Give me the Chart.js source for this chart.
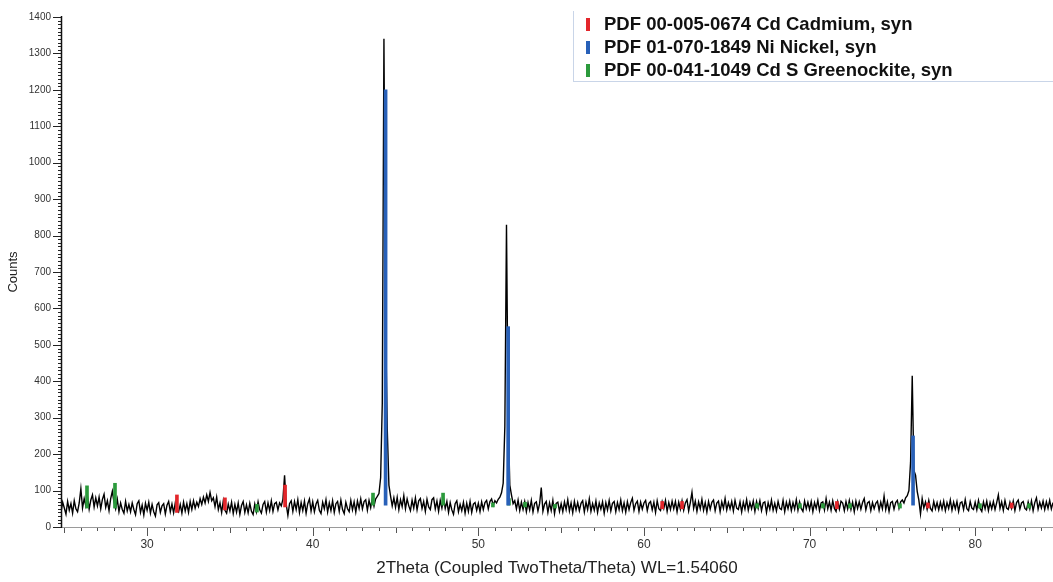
<!DOCTYPE html>
<html>
<head>
<meta charset="utf-8">
<script src="https://cdn.jsdelivr.net/npm/chart.js@4.4.1/dist/chart.umd.min.js"></script>
<style>
  html, body { margin: 0; padding: 0; background: #fff; }
  #wrap { position: relative; width: 1053px; height: 582px; }
  #legend {
    position: absolute; left: 573px; top: 11px; width: 480px; height: 70px;
    border-left: 1px solid #c9d5e8; border-bottom: 1px solid #c9d5e8;
    font-family: "Liberation Sans", Arial, sans-serif; font-weight: bold; font-size: 18.5px; color: #111;
  }
  #legend .row { position: absolute; left: 0; height: 22px; line-height: 22px; white-space: nowrap; }
  #legend .mark { position: absolute; left: 12px; top: 5px; width: 4px; height: 13px; }
  #legend .txt { position: absolute; left: 30px; top: 0; }
</style>
</head>
<body>
<div id="wrap">
  <canvas id="xrdChart"></canvas>
  <div id="legend"></div>
</div>
<script>
// Scan grid (2Theta, degrees) and measured counts, one row per degree
const twoThetaStart = 24.8;
const twoThetaStep = 0.1;
const counts = [
  40, 68,
  52, 35, 70, 46, 64, 38, 72, 50, 42, 66,          // 25
  105, 52, 78, 58, 84, 49, 74, 88, 55, 80,         // 26
  58, 82, 50, 76, 90, 54, 72, 45, 78, 98,          // 27
  68, 50, 76, 42, 66, 48, 38, 70, 44, 62,          // 28
  42, 66, 48, 34, 64, 72, 40, 60, 33, 65,          // 29
  46, 68, 38, 62, 42, 30, 61, 67, 40, 58,          // 30
  64, 36, 60, 70, 42, 63, 39, 66, 46, 41,          // 31
  62, 38, 68, 44, 64, 40, 70, 48, 72, 52,          // 32
  68, 56, 78, 62, 82, 66, 88, 70, 95, 72,          // 33
  80, 56, 82, 48, 66, 40, 72, 46, 38, 63,          // 34
  44, 68, 37, 62, 41, 66, 35, 59, 70, 40,          // 35
  61, 39, 65, 43, 34, 63, 42, 69, 47, 38,          // 36
  62, 70, 41, 66, 45, 72, 43, 64, 68, 47,          // 37
  66, 58, 76, 142, 62, 32, 64, 72, 43, 70,         // 38
  48, 75, 40, 67, 45, 71, 38, 64, 77, 44,          // 39
  69, 42, 63, 73, 46, 37, 68, 50, 75, 41,          // 40
  66, 45, 72, 40, 64, 70, 43, 74, 48, 37,          // 41
  68, 50, 42, 73, 47, 69, 41, 71, 51, 77,          // 42
  50, 70, 75, 46, 73, 53, 79, 57, 77, 84,          // 43
  92, 135, 340, 1340, 560, 270, 115, 85, 58, 80,   // 44
  54, 81, 48, 75, 56, 86, 50, 77, 58, 45,          // 45
  74, 52, 80, 47, 72, 78, 51, 70, 43, 76,          // 46
  55, 48, 75, 80, 50, 71, 43, 73, 52, 79,          // 47
  51, 70, 40, 67, 47, 35, 64, 72, 42, 62,          // 48
  45, 68, 38, 65, 43, 70, 40, 63, 67, 46,          // 49
  65, 42, 69, 48, 67, 73, 50, 70, 77, 60,          // 50
  72, 66, 76, 82, 94, 120, 275, 830, 300, 115,     // 51
  88, 64, 72, 50, 74, 45, 68, 48, 70, 42,          // 52
  67, 47, 73, 41, 65, 69, 44, 64, 108, 43,         // 53
  63, 70, 40, 66, 45, 73, 37, 65, 68, 43,          // 54
  64, 42, 69, 48, 75, 44, 66, 39, 70, 47,          // 55
  67, 45, 65, 72, 41, 68, 48, 77, 43, 64,          // 56
  46, 71, 40, 66, 49, 69, 38, 67, 47, 73,          // 57
  44, 65, 70, 42, 67, 48, 74, 45, 66, 41,          // 58
  69, 48, 67, 79, 46, 64, 71, 43, 68, 49,          // 59
  66, 73, 45, 65, 70, 47, 68, 40, 72, 50,          // 60
  45, 69, 51, 73, 43, 67, 48, 71, 50, 70,          // 61
  42, 68, 49, 72, 46, 66, 75, 44, 67, 95,          // 62
  51, 71, 43, 69, 50, 76, 46, 67, 41, 70,          // 63
  49, 68, 74, 45, 66, 71, 42, 69, 51, 78,          // 64
  47, 67, 50, 70, 44, 73, 52, 48, 69, 41,          // 65
  68, 49, 75, 46, 67, 50, 71, 43, 70, 51,          // 66
  72, 45, 66, 69, 40, 67, 49, 74, 46, 65,          // 67
  44, 70, 51, 48, 73, 42, 68, 50, 71, 45,          // 68
  67, 49, 75, 46, 69, 51, 43, 71, 50, 68,          // 69
  48, 70, 42, 67, 51, 73, 45, 66, 69, 47,          // 70
  78, 50, 68, 46, 72, 51, 43, 69, 49, 71,          // 71
  66, 45, 70, 50, 73, 48, 68, 42, 71, 51,          // 72
  69, 49, 67, 78, 47, 66, 70, 45, 67, 50,          // 73
  65, 71, 46, 68, 50, 85, 48, 69, 43, 67,          // 74
  70, 49, 67, 73, 51, 69, 74, 66, 80, 86,          // 75
  100, 178, 415, 155, 142, 98, 74, 36, 78, 52,     // 76
  69, 48, 73, 51, 44, 70, 50, 67, 47, 68,          // 77
  49, 71, 45, 67, 51, 74, 46, 68, 50, 70,          // 78
  43, 66, 69, 48, 75, 50, 45, 70, 52, 48,          // 79
  68, 47, 73, 51, 43, 69, 50, 71, 45, 67,          // 80
  50, 70, 48, 67, 88, 51, 69, 46, 73, 52,          // 81
  48, 68, 51, 71, 45, 67, 74, 49, 66, 70,          // 82
  51, 47, 69, 50, 72, 45, 67, 80, 49, 68,          // 83
  52, 71, 48, 69, 51, 73, 50, 67                   // 84
];

// Reference pattern sticks: position, base and top (counts)
const cdLabel = "PDF 00-005-0674 Cd Cadmium, syn";
const cdPos  = [31.8, 34.7, 38.33, 61.1, 62.3, 71.65, 77.15, 82.2];
const cdBase = [40, 47, 55, 50, 50, 50, 52, 52];
const cdTop  = [88, 80, 115, 70, 70, 70, 66, 66];

const niLabel = "PDF 01-070-1849 Ni Nickel, syn";
const niPos  = [44.4, 51.8, 76.25];
const niBase = [60, 60, 60];
const niTop  = [1200, 550, 250];

const cdsLabel = "PDF 00-041-1049 Cd S Greenockite, syn";
const cdsPos  = [26.37, 28.06, 36.63, 43.64, 47.87, 50.88, 51.85, 52.82, 54.63, 66.83, 69.42, 70.81, 72.44, 75.46, 80.29, 83.25];
const cdsBase = [52, 52, 41, 60, 60, 55, 60, 55, 52, 52, 52, 52, 52, 52, 52, 52];
const cdsTop  = [113, 120, 62, 93, 93, 66, 78, 68, 62, 64, 64, 64, 64, 64, 64, 64];

const xMin = 24.8, xMax = 84.7;
const xTickValues = [30, 40, 50, 60, 70, 80];
const yMin = 0, yMax = 1400;
const xTitle = "2Theta (Coupled TwoTheta/Theta) WL=1.54060";
const yTitle = "Counts";

const FONT = "'Liberation Sans', Arial, sans-serif";

function sticks(pos, base, top) {
    return pos.map((p, i) => ({ x: p, y: [base[i], top[i]] }));
}

const scanPoints = counts.map((c, i) => ({ x: +(twoThetaStart + i * twoThetaStep).toFixed(2), y: c }));

// axis lines and tick marks drawn from the scales
const axisTicks = {
    id: "axisTicks",
    afterDraw(chart) {
        const { ctx, chartArea, scales: { x, y } } = chart;
        ctx.save();
        ctx.lineWidth = 1;
        ctx.strokeStyle = "#222";
        ctx.beginPath();
        for (let v = yMin; v <= yMax; v += 10) {
            const py = Math.round(y.getPixelForValue(v)) + 0.5;
            const len = v % 100 === 0 ? 8 : 3;
            ctx.moveTo(chartArea.left - len, py);
            ctx.lineTo(chartArea.left, py);
        }
        ctx.stroke();
        ctx.strokeStyle = "#555";
        ctx.beginPath();
        for (let v = Math.ceil(xMin); v <= xMax; v++) {
            const px = Math.round(x.getPixelForValue(v)) + 0.5;
            const len = v % 10 === 0 ? 8 : (v % 5 === 0 ? 5 : 3);
            ctx.moveTo(px, chartArea.bottom + 1);
            ctx.lineTo(px, chartArea.bottom + 1 + len);
        }
        ctx.stroke();
        // x axis line
        ctx.strokeStyle = "#9a9a9a";
        ctx.beginPath();
        ctx.moveTo(chartArea.left, chartArea.bottom + 0.5);
        ctx.lineTo(chartArea.right, chartArea.bottom + 0.5);
        ctx.stroke();
        // y axis line
        ctx.strokeStyle = "#111";
        ctx.lineWidth = 1.5;
        ctx.beginPath();
        ctx.moveTo(chartArea.left + 0.5, chartArea.top - 1);
        ctx.lineTo(chartArea.left + 0.5, chartArea.bottom + 1);
        ctx.stroke();
        ctx.restore();
    }
};

const ctx = document.getElementById("xrdChart").getContext("2d");
const xrdChart = new Chart(ctx, {
    type: "scatter",
    data: {
        datasets: [
            {
                type: "line",
                label: "scan",
                data: scanPoints,
                borderColor: "#000",
                borderWidth: 1.4,
                pointRadius: 0,
                tension: 0,
                order: 3,
            },
            { type: "bar", label: cdLabel, data: sticks(cdPos, cdBase, cdTop), backgroundColor: "#e3262b", barThickness: 3, grouped: false, order: 2 },
            { type: "bar", label: cdsLabel, data: sticks(cdsPos, cdsBase, cdsTop), backgroundColor: "#2b9a3c", barThickness: 3, grouped: false, order: 2 },
            { type: "bar", label: niLabel, data: sticks(niPos, niBase, niTop), backgroundColor: "#2860b8", barThickness: 3, grouped: false, order: 1 },
        ],
    },
    options: {
        responsive: true,
        maintainAspectRatio: false,
        animation: false,
        layout: { padding: { top: 17, right: 0, left: 0, bottom: 0 } },
        plugins: { legend: { display: false }, tooltip: { enabled: false } },
        scales: {
            x: {
                type: "linear",
                position: "bottom",
                min: xMin,
                max: xMax,
                offset: false,
                grid: { display: false, drawTicks: false },
                border: { display: false },
                afterBuildTicks: (s) => { s.ticks = xTickValues.map((v) => ({ value: v })); },
                ticks: { padding: 10, color: "#333", font: { family: FONT, size: 12 }, maxRotation: 0, callback: (v) => String(v) },
                title: { display: true, text: xTitle, color: "#222", font: { family: FONT, size: 17 }, padding: { top: 2, bottom: 3 } },
                afterFit: (s) => { s.height = 55; },
            },
            y: {
                type: "linear",
                min: yMin,
                max: yMax,
                grid: { display: false, drawTicks: false },
                border: { display: false },
                ticks: { stepSize: 100, padding: 10, color: "#333", font: { family: FONT, size: 10 }, callback: (v) => String(v) },
                title: { display: true, text: yTitle, color: "#222", font: { family: FONT, size: 13 }, padding: { top: 6, bottom: 4 } },
                afterFit: (s) => { s.width = 61; },
            },
        },
    },
    plugins: [axisTicks],
});

// legend overlay
const legendItems = [
    { text: cdLabel, color: "#e3262b" },
    { text: niLabel, color: "#2860b8" },
    { text: cdsLabel, color: "#2b9a3c" },
];
const legendBox = document.getElementById("legend");
legendItems.forEach((item, i) => {
    const row = document.createElement("div");
    row.className = "row";
    row.style.top = (2 + i * 23) + "px";
    row.innerHTML = `<span class="mark" style="background:${item.color}"></span><span class="txt">${item.text}</span>`;
    legendBox.appendChild(row);
});
</script>
</body>
</html>
